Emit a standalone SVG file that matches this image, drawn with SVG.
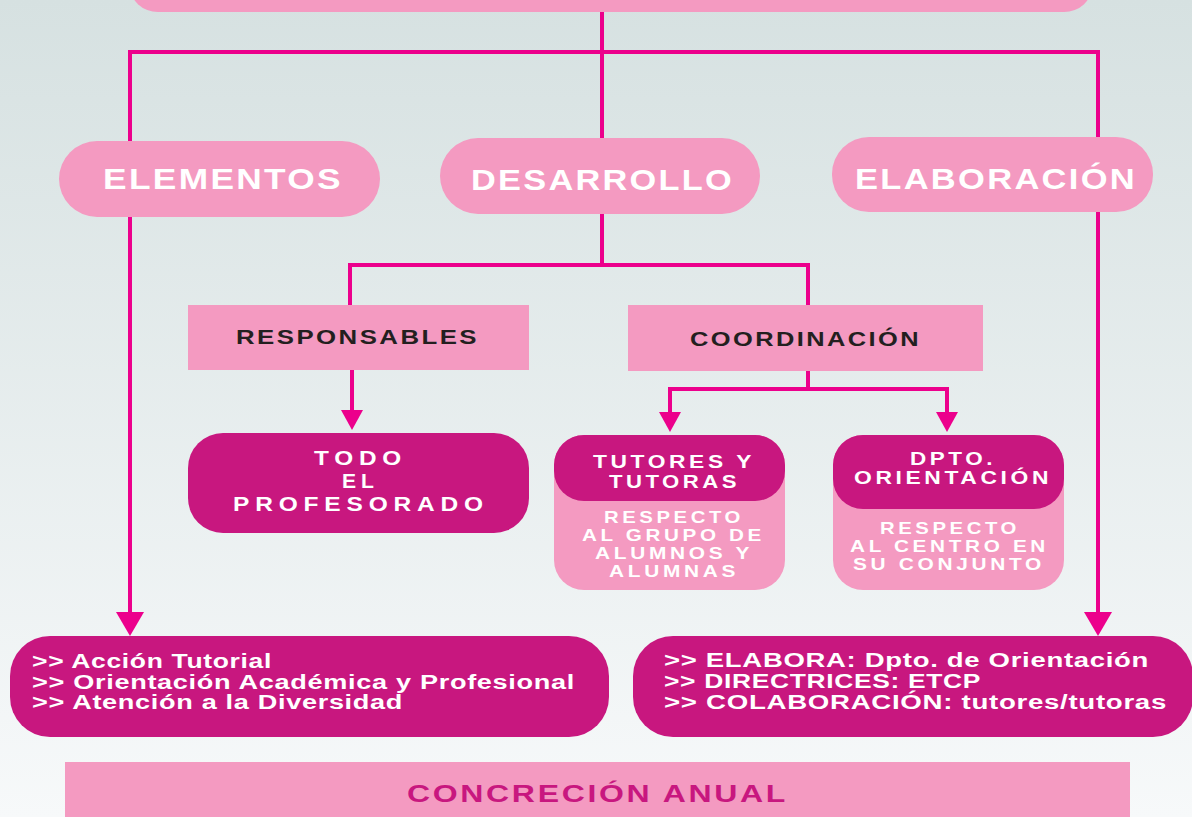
<svg xmlns="http://www.w3.org/2000/svg" width="1192" height="817" viewBox="0 0 1192 817">
<defs>
<linearGradient id="bg" x1="0" y1="0" x2="0" y2="1">
<stop offset="0" stop-color="#d6e1e1"/>
<stop offset="1" stop-color="#f7f9fa"/>
</linearGradient>
<marker id="arrS" markerUnits="userSpaceOnUse" markerWidth="20" markerHeight="22" refX="10" refY="11" orient="auto">
<path d="M0,0 L20,11 L0,22 z" fill="#ec008c"/>
</marker>
<marker id="arrL" markerUnits="userSpaceOnUse" markerWidth="24" markerHeight="28" refX="12" refY="14" orient="auto">
<path d="M0,0 L24,14 L0,28 z" fill="#ec008c"/>
</marker>
<style>
.light{fill:#f49ac1}
.dark{fill:#c8177f}
.t{font-family:"Liberation Sans",Arial,Helvetica,sans-serif;font-weight:bold}
.w{fill:#ffffff}
.k{fill:#231f20}
.m{fill:#c8177f}
.h{font-size:30px;letter-spacing:2px}
.s{font-size:21px;letter-spacing:2px}
.p{font-size:21px;letter-spacing:5px}
.u{font-size:19px;letter-spacing:3px}
.r{font-size:17px;letter-spacing:3px}
.l{font-size:20px;letter-spacing:0.5px}
.c{font-size:24px;letter-spacing:2px}
.conn{fill:none;stroke:#ec008c;stroke-width:4}
</style>
</defs>
<rect x="0" y="0" width="1192" height="817" fill="url(#bg)"/>

<g id="connectors">
<path class="conn" d="M602,12 V140"/>
<path class="conn" d="M602,52 H130 V624" marker-end="url(#arrL)"/>
<path class="conn" d="M602,52 H1098 V624" marker-end="url(#arrL)"/>
<path class="conn" d="M602,212 V265 H350 V307"/>
<path class="conn" d="M602,265 H808 V307"/>
<path class="conn" d="M352,368 V420" marker-end="url(#arrS)"/>
<path class="conn" d="M808,369 V389 H670 V422" marker-end="url(#arrS)"/>
<path class="conn" d="M808,389 H947 V422" marker-end="url(#arrS)"/>
</g>

<g id="top">
<rect class="light" x="130" y="-40" width="962" height="52" rx="28"/>
</g>

<g id="elementos">
<rect class="light" x="59" y="141" width="321" height="76" rx="38"/>
<text class="t w h" x="103" y="189" textLength="240" lengthAdjust="spacingAndGlyphs">ELEMENTOS</text>
</g>
<g id="desarrollo">
<rect class="light" x="440" y="138" width="320" height="76" rx="38"/>
<text class="t w h" x="471" y="190" textLength="263" lengthAdjust="spacingAndGlyphs">DESARROLLO</text>
</g>
<g id="elaboracion">
<rect class="light" x="832" y="137" width="321" height="75" rx="37"/>
<text class="t w h" x="855" y="189" textLength="282" lengthAdjust="spacingAndGlyphs">ELABORACIÓN</text>
</g>

<g id="responsables">
<rect class="light" x="188" y="305" width="341" height="65"/>
<text class="t k s" x="236" y="344" textLength="243" lengthAdjust="spacingAndGlyphs">RESPONSABLES</text>
</g>
<g id="coordinacion">
<rect class="light" x="628" y="305" width="355" height="66"/>
<text class="t k s" x="690" y="346" textLength="231" lengthAdjust="spacingAndGlyphs">COORDINACIÓN</text>
</g>

<g id="profesorado">
<rect class="dark" x="188" y="433" width="341" height="100" rx="35"/>
<text class="t w p" x="314" y="465" textLength="93" lengthAdjust="spacingAndGlyphs">TODO</text>
<text class="t w p" x="342" y="488" textLength="37" lengthAdjust="spacingAndGlyphs">EL</text>
<text class="t w p" x="233" y="511" textLength="256" lengthAdjust="spacingAndGlyphs">PROFESORADO</text>
</g>

<g id="tutores">
<rect class="light" x="554" y="435" width="231" height="155" rx="30"/>
<rect class="dark" x="554" y="435" width="231" height="66" rx="30"/>
<text class="t w u" x="593" y="468" textLength="162" lengthAdjust="spacingAndGlyphs">TUTORES Y</text>
<text class="t w u" x="609" y="488" textLength="131" lengthAdjust="spacingAndGlyphs">TUTORAS</text>
<text class="t w r" x="604" y="523" textLength="140" lengthAdjust="spacingAndGlyphs">RESPECTO</text>
<text class="t w r" x="582" y="541" textLength="183" lengthAdjust="spacingAndGlyphs">AL GRUPO DE</text>
<text class="t w r" x="595" y="559" textLength="158" lengthAdjust="spacingAndGlyphs">ALUMNOS Y</text>
<text class="t w r" x="609" y="577" textLength="130" lengthAdjust="spacingAndGlyphs">ALUMNAS</text>
</g>

<g id="dpto">
<rect class="light" x="833" y="435" width="231" height="155" rx="30"/>
<rect class="dark" x="833" y="435" width="231" height="74" rx="30"/>
<text class="t w u" x="910" y="465" textLength="86" lengthAdjust="spacingAndGlyphs">DPTO.</text>
<text class="t w u" x="854" y="484" textLength="198" lengthAdjust="spacingAndGlyphs">ORIENTACIÓN</text>
<text class="t w r" x="880" y="534" textLength="140" lengthAdjust="spacingAndGlyphs">RESPECTO</text>
<text class="t w r" x="850" y="552" textLength="199" lengthAdjust="spacingAndGlyphs">AL CENTRO EN</text>
<text class="t w r" x="853" y="570" textLength="192" lengthAdjust="spacingAndGlyphs">SU CONJUNTO</text>
</g>

<g id="lista-elementos">
<rect class="dark" x="10" y="636" width="599" height="101" rx="40"/>
<text class="t w l" x="32" y="668" textLength="240" lengthAdjust="spacingAndGlyphs">&gt;&gt; Acción Tutorial</text>
<text class="t w l" x="32" y="689" textLength="543" lengthAdjust="spacingAndGlyphs">&gt;&gt; Orientación Académica y Profesional</text>
<text class="t w l" x="32" y="709" textLength="371" lengthAdjust="spacingAndGlyphs">&gt;&gt; Atención a la Diversidad</text>
</g>

<g id="lista-elaboracion">
<rect class="dark" x="633" y="636" width="560" height="101" rx="40"/>
<text class="t w l" x="664" y="667" textLength="485" lengthAdjust="spacingAndGlyphs">&gt;&gt; ELABORA: Dpto. de Orientación</text>
<text class="t w l" x="664" y="688" textLength="317" lengthAdjust="spacingAndGlyphs">&gt;&gt; DIRECTRICES: ETCP</text>
<text class="t w l" x="664" y="709" textLength="503" lengthAdjust="spacingAndGlyphs">&gt;&gt; COLABORACIÓN: tutores/tutoras</text>
</g>

<g id="concrecion">
<rect class="light" x="65" y="762" width="1065" height="60"/>
<text class="t m c" x="407" y="802" textLength="381" lengthAdjust="spacingAndGlyphs">CONCRECIÓN ANUAL</text>
</g>
</svg>
